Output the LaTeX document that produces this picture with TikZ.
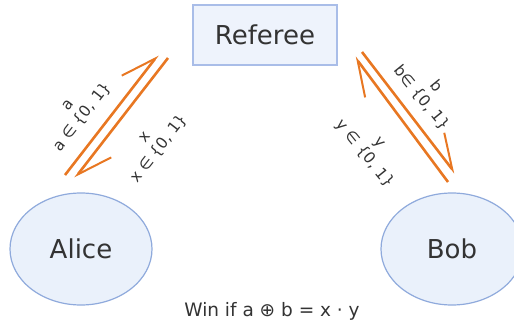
\documentclass[tikz,border=0pt]{standalone}
\usepackage{fontspec}
\setmainfont{DejaVu Sans}
\usetikzlibrary{arrows.meta,shapes.geometric}
\definecolor{arr}{HTML}{E87722}
\definecolor{txt}{HTML}{333333}
\definecolor{boxfill}{HTML}{EEF3FC}
\definecolor{boxline}{HTML}{A9BDE8}
\definecolor{ellfill}{HTML}{EAF1FB}
\definecolor{ellline}{HTML}{8FAADC}
\begin{document}
\begin{tikzpicture}[x=1pt,y=-1pt,
  party/.style={ellipse, draw=ellline, fill=ellfill, line width=1.2pt, minimum width=142pt, minimum height=112pt, inner sep=0pt, text=txt, font=\fontsize{26}{30}\selectfont},
  refbox/.style={rectangle, draw=boxline, fill=boxfill, line width=1.2pt, minimum width=144pt, minimum height=60pt, inner sep=0pt, text=txt, font=\fontsize{26}{30}\selectfont},
  msg/.style={draw=arr, line width=2.6pt, -{Straight Barb[left, length=34pt, width=32pt, line width=2pt]}},
  lbl/.style={text=txt, align=center, inner sep=0pt, font=\fontsize{15.5}{19}\selectfont}
]
\useasboundingbox (0,0) rectangle (514,327);
\node[refbox] (ref) at (265,35) {Referee};
\node[party] (alice) at (81,249) {Alice};
\node[party] (bob) at (452,249) {Bob};
\node[text=txt, anchor=base, font=\fontsize{18.5}{22}\selectfont] (win) at (272,316) {Win if a ⊕ b = x · y};
% endpoints
\coordinate (a1) at (65,175);
\coordinate (a2) at (158,55);
\coordinate (x1) at (168,58);
\coordinate (x2) at (75,178);
\coordinate (b1) at (362,52);
\coordinate (b2) at (455,173);
\coordinate (y1) at (448,182);
\coordinate (y2) at (355,57);
\draw[msg] (a1) -- (a2);
\draw[msg] (x1) -- (x2);
\draw[msg] (b1) -- (b2);
\draw[msg] (y1) -- (y2);
\node[lbl, rotate=52] (la) at (76,112) {a\\a ∈ \{0, 1\}};
\node[lbl, rotate=52] (lx) at (153,144) {x\\x ∈ \{0, 1\}};
\node[lbl, rotate=-51] (lb) at (429,92) {b\\b∈ \{0, 1\}};
\node[lbl, rotate=-51] (ly) at (371,149) {y\\y ∈ \{0, 1\}};
\end{tikzpicture}
\end{document}
